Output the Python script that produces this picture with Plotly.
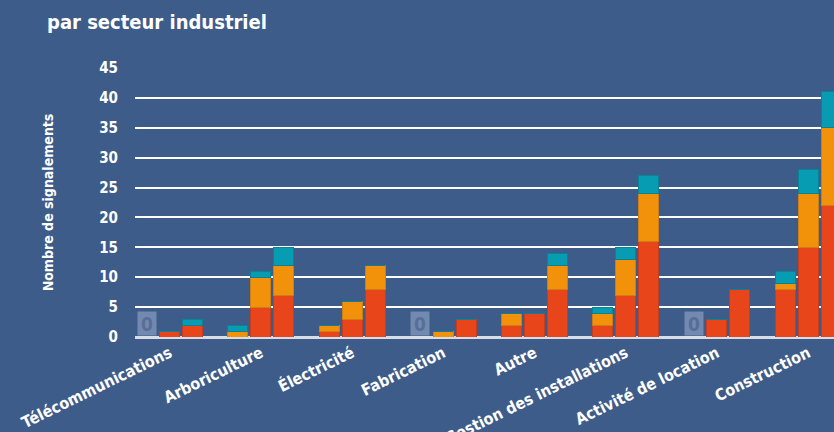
import plotly.graph_objects as go

categories = ["Télécommunications", "Arboriculture", "Électricité", "Fabrication",
              "Autre", "Gestion des installations", "Activité de location", "Construction"]
# values per category: [year1, year2, year3]
red = [[0, 1, 2], [0, 5, 7], [1, 3, 8], [0, 0, 3], [2, 4, 8], [2, 7, 16], [0, 3, 8], [8, 15, 22]]
orange = [[0, 0, 0], [1, 5, 5], [1, 3, 4], [0, 1, 0], [2, 0, 4], [2, 6, 8], [0, 0, 0], [1, 9, 13]]
teal = [[0, 0, 1], [1, 1, 3], [0, 0, 0], [0, 0, 0], [0, 0, 2], [1, 2, 3], [0, 0, 0], [2, 4, 6]]
y_ticks = [0, 5, 10, 15, 20, 25, 30, 35, 40, 45]

BG = "rgb(62,92,137)"
FONT = "DejaVu Sans Condensed"
offsets = [-0.252, 0.0, 0.252]
bar_w = 0.22

xs = []
r_vals, o_vals, t_vals = [], [], []
for i in range(len(categories)):
    for j in range(3):
        xs.append(i + offsets[j])
        r_vals.append(red[i][j])
        o_vals.append(orange[i][j])
        t_vals.append(teal[i][j])

fig = go.Figure()
for vals, col, line in [(r_vals, "rgb(232,70,26)", "rgb(200,60,30)"),
                        (o_vals, "rgb(241,146,10)", "rgb(205,125,20)"),
                        (t_vals, "rgb(8,156,178)", "rgb(10,130,150)")]:
    fig.add_trace(go.Bar(x=xs, y=vals, width=bar_w,
                         marker=dict(color=col, line=dict(color=line, width=1)),
                         showlegend=False, hoverinfo="skip"))

# zero labels
for x, r, o, t in zip(xs, r_vals, o_vals, t_vals):
    if r + o + t == 0:
        fig.add_annotation(x=x, y=0, yref="y", yanchor="bottom", text="<b>0</b>",
                           showarrow=False, yshift=1,
                           font=dict(family=FONT, size=19, color="rgb(88,110,152)"),
                           bgcolor="rgba(150,168,200,0.6)", width=16, height=21,
                           borderpad=1)

fig.update_layout(
    width=834, height=432,
    paper_bgcolor=BG, plot_bgcolor=BG,
    barmode="stack",
    margin=dict(l=135, r=0, t=68, b=95),
    title=dict(text="<b>par secteur industriel</b>", x=47/834, xanchor="left",
               y=1 - 22/432, yanchor="middle",
               font=dict(family=FONT, size=20, color="white")),
    font=dict(family=FONT, color="white"),
    xaxis=dict(range=[-0.38, 7.284], tickmode="array", automargin=False,
               tickvals=list(range(len(categories))), ticktext=categories,
               tickangle=-26, showgrid=False, zeroline=False, showline=False,
               tickfont=dict(family=FONT, size=16, color="white", weight="bold"),
               ticklabelstandoff=3),
    yaxis=dict(range=[0, 45], tickvals=y_ticks, showgrid=True, automargin=False,
               gridcolor="white", gridwidth=2,
               zeroline=True, zerolinecolor="rgb(215,222,232)", zerolinewidth=3,
               tickfont=dict(family=FONT, size=15, color="white", weight="bold"),
               ticklabelstandoff=16,
               title=dict(text="<b>Nombre de signalements</b>", standoff=42,
                          font=dict(family=FONT, size=14, color="white"))),
)

fig.write_html("out.html", config={"displayModeBar": False},
               post_script="document.body.style.margin='0';document.body.style.background='rgb(62,92,137)';")
